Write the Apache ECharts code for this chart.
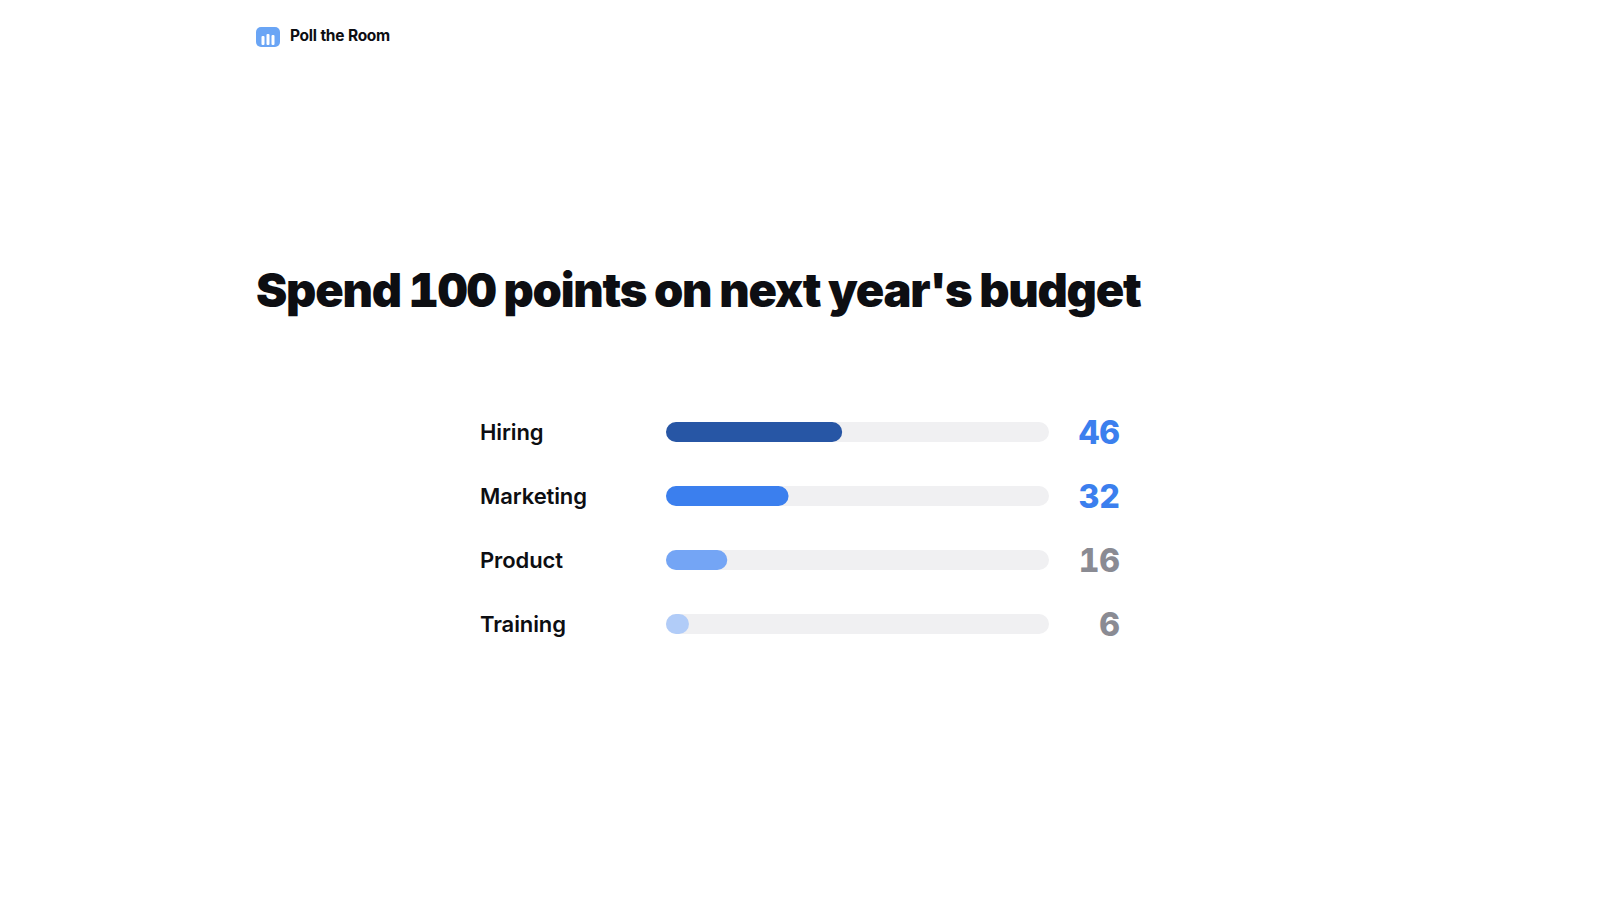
<!DOCTYPE html>
<html>
<head>
<meta charset="utf-8">
<title>Spend 100 points on next year's budget</title>
<style>
  html, body { margin: 0; padding: 0; background: #fff; }
  #chart { width: 1600px; height: 900px; }
  /* tabular digits and tracking are not passed to svg text by echarts, so set them here */
  #chart text { font-variant-numeric: tabular-nums; }
  #chart text[style*="47px"] { letter-spacing: -1.25px; word-spacing: -3.6px; }
  #chart text[style*="15.5px"] { letter-spacing: -0.31px; }
  #chart text[style*="22px"] { letter-spacing: -0.1px; }
</style>
<script src="https://cdn.jsdelivr.net/npm/echarts@6/dist/echarts.min.js"></script>
</head>
<body>
<div id="chart"></div>
<script>
const categories = ['Hiring', 'Marketing', 'Product', 'Training'];
const points = [46, 32, 16, 6];
const barColors = ['#2756a5', '#3b7fee', '#74a5f5', '#b1ccf8'];
const valueColors = ['#3b7fee', '#3b7fee', '#8a8b93', '#8a8b93'];
const logoBars = [[5.5, 9, 3, 9], [10.5, 7, 3, 11], [15.5, 8, 3, 10]]; // icon bars: x, y, w, h inside the logo

const chart = echarts.init(document.getElementById('chart'), null, { renderer: 'svg' });

chart.setOption({
  animation: false,
  backgroundColor: '#ffffff',
  textStyle: { fontFamily: 'Inter' },
  title: [
    {
      text: "Spend 100 points on next year's budget",
      left: 256,
      top: 266,
      padding: 0,
      textStyle: { fontFamily: 'Inter', fontSize: 47, fontWeight: 900, color: '#0d0e12' }
    },
    {
      text: 'Poll the Room',
      left: 290,
      top: 27,
      padding: 0,
      textStyle: { fontFamily: 'Inter', fontSize: 15.5, fontWeight: 700, color: '#0d0e12' }
    }
  ],
  graphic: [
    {
      type: 'group',
      left: 256,
      top: 27,
      children: [
        { type: 'rect', shape: { x: 0, y: 0, width: 24, height: 20, r: 5 }, style: { fill: '#6aa5f5' } }
      ].concat(logoBars.map(b => ({
        type: 'rect',
        shape: { x: b[0], y: b[1], width: b[2], height: b[3], r: 1 },
        style: { fill: '#ffffff' }
      })))
    }
  ],
  grid: { left: 666, top: 400, width: 383, height: 256 },
  xAxis: { type: 'value', min: 0, max: 100, show: false },
  yAxis: [
    {
      type: 'category',
      inverse: true,
      data: categories,
      axisLine: { show: false },
      axisTick: { show: false },
      axisLabel: { align: 'left', margin: 186, padding: [2, 0, 0, 0], fontFamily: 'Inter', fontSize: 22, fontWeight: 600, color: '#0d0e12' }
    },
    {
      type: 'category',
      inverse: true,
      position: 'right',
      data: points.map(String),
      axisLine: { show: false },
      axisTick: { show: false },
      axisLabel: {
        align: 'right',
        margin: 71,
        padding: 0,
        fontFamily: 'Inter',
        fontSize: 32,
        fontWeight: 800,
        color: (value, index) => valueColors[index]
      }
    }
  ],
  series: [
    {
      type: 'bar',
      data: points.map((v, i) => ({ value: v, itemStyle: { color: barColors[i] } })),
      barWidth: 20,
      itemStyle: { borderRadius: 10 },
      showBackground: true,
      backgroundStyle: { color: '#f0f0f2', borderRadius: 10 }
    }
  ]
});
</script>
</body>
</html>
